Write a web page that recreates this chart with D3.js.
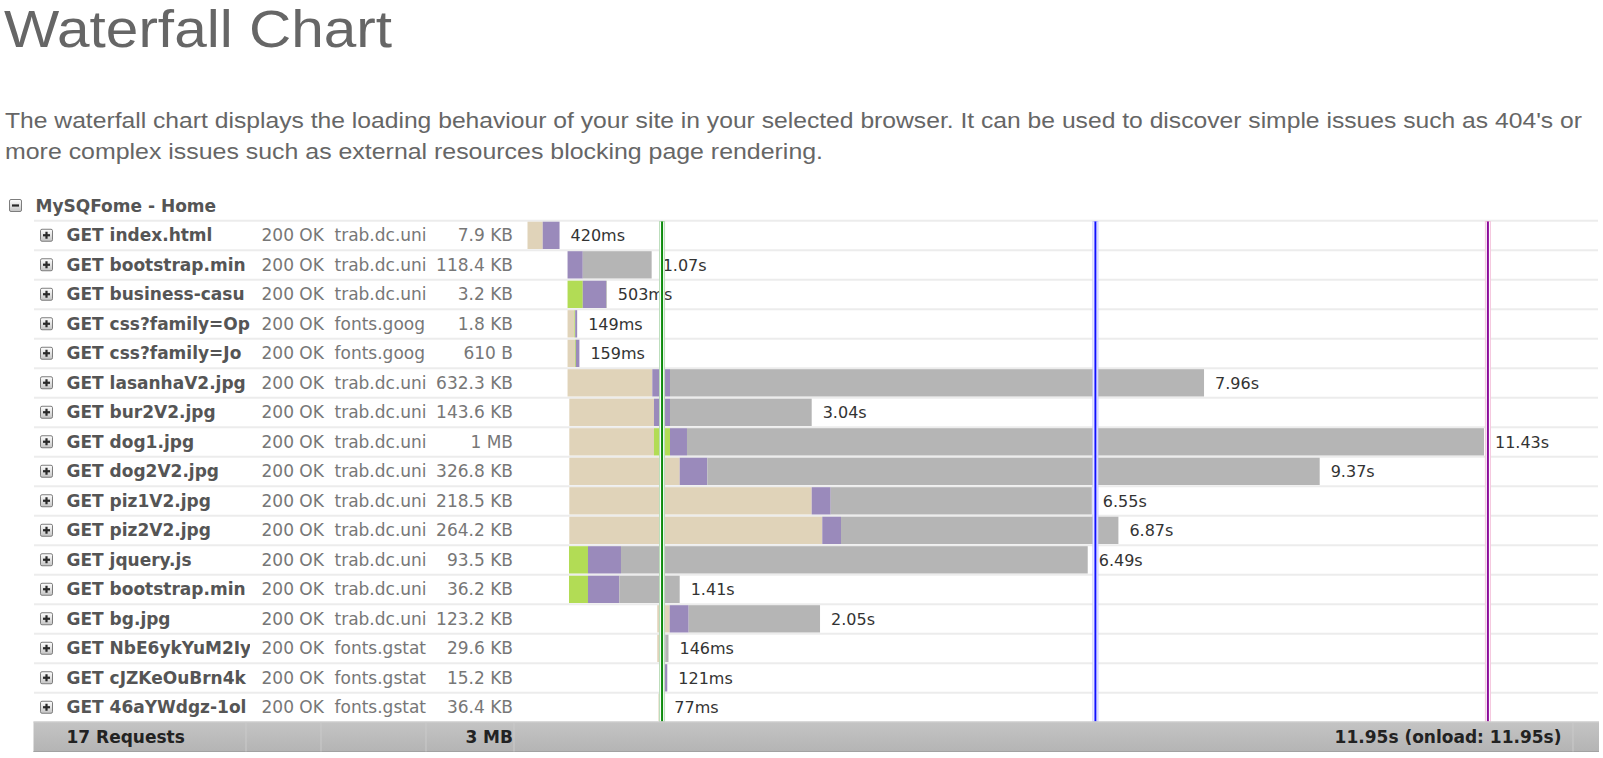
<!DOCTYPE html>
<html><head><meta charset="utf-8">
<script src="https://cdn.jsdelivr.net/npm/d3@7"></script>
<style>
html,body{margin:0;padding:0;background:#fff;overflow:hidden}
svg{display:block}
</style></head>
<body>
<script>
// ---------- data ----------
const pageTitle = "Waterfall Chart";
const descLines = [
  "The waterfall chart displays the loading behaviour of your site in your selected browser. It can be used to discover simple issues such as 404's or",
  "more complex issues such as external resources blocking page rendering."
];
const groupName = "MySQFome - Home";
const requests = ["GET index.html","GET bootstrap.min","GET business-casu","GET css?family=Op","GET css?family=Jo","GET lasanhaV2.jpg","GET bur2V2.jpg","GET dog1.jpg","GET dog2V2.jpg","GET piz1V2.jpg","GET piz2V2.jpg","GET jquery.js","GET bootstrap.min","GET bg.jpg","GET NbE6ykYuM2Iy","GET cJZKeOuBrn4k","GET 46aYWdgz-1ol"];
const statuses = Array(17).fill("200 OK");
const hosts = ["trab.dc.uni","trab.dc.uni","trab.dc.uni","fonts.goog","fonts.goog","trab.dc.uni","trab.dc.uni","trab.dc.uni","trab.dc.uni","trab.dc.uni","trab.dc.uni","trab.dc.uni","trab.dc.uni","trab.dc.uni","fonts.gstat","fonts.gstat","fonts.gstat"];
const sizes = ["7.9 KB","118.4 KB","3.2 KB","1.8 KB","610 B","632.3 KB","143.6 KB","1 MB","326.8 KB","218.5 KB","264.2 KB","93.5 KB","36.2 KB","123.2 KB","29.6 KB","15.2 KB","36.4 KB"];
// timings in seconds
const startT   = [0, 0.50, 0.50, 0.50, 0.50, 0.50, 0.522, 0.522, 0.522, 0.522, 0.522, 0.518, 0.518, 1.62, 1.62, 1.645, 1.635];
const blocked  = [0.19, 0, 0, 0.085, 0.093, 1.058, 1.057, 1.057, 1.378, 3.026, 3.158, 0, 0, 0.155, 0.085, 0.07, 0.05];
const dns      = [0, 0, 0.19, 0.01, 0.01, 0, 0, 0.20, 0, 0, 0, 0.237, 0.237, 0, 0, 0, 0];
const waiting  = [0.21, 0.19, 0.29, 0.025, 0.045, 0.221, 0.20, 0.212, 0.345, 0.237, 0.234, 0.412, 0.391, 0.237, 0.015, 0.03, 0.01];
const receive  = [0, 0.86, 0.01, 0, 0, 6.667, 1.769, 9.95, 7.645, 3.26, 3.463, 5.827, 0.754, 1.64, 0.04, 0, 0];
const durLabels = ["420ms","1.07s","503ms","149ms","159ms","7.96s","3.04s","11.43s","9.37s","6.55s","6.87s","6.49s","1.41s","2.05s","146ms","121ms","77ms"];
const eventTimes = [1.68, 7.09, 11.99];
const totalTime = 11.95;
const footerCount = "17 Requests";
const footerSize = "3 MB";
const footerTime = "11.95s (onload: 11.95s)";

// ---------- layout ----------
const W = 1603, H = 758;
const rowTop0 = 220, rowH = 29.5;
const phaseColors = ["#e0d3b9", "#b2dc55", "#9a8abb", "#b5b5b5"];
const evColors = [{c:"#0b8a0b", l:"#b9dcb9"}, {c:"#1010ff", l:"#c4c4ff"}, {c:"#8a0a9a", l:"#f4c4dc"}];
const descWidths = [1577, 818];

const svg = d3.select("body").append("svg").attr("width", W).attr("height", H);
const defs = svg.append("defs");
const grad = defs.append("linearGradient").attr("id","icg").attr("x1",0).attr("y1",0).attr("x2",0).attr("y2",1);
grad.append("stop").attr("offset","0%").attr("stop-color","#ffffff");
grad.append("stop").attr("offset","100%").attr("stop-color","#c4c4c4");
const fgrad = defs.append("linearGradient").attr("id","ftg").attr("x1",0).attr("y1",0).attr("x2",0).attr("y2",1);
fgrad.append("stop").attr("offset","0%").attr("stop-color","#c4c4c4");
fgrad.append("stop").attr("offset","100%").attr("stop-color","#b4b4b4");
defs.append("clipPath").attr("id","clipName").append("rect").attr("x",60).attr("y",0).attr("width",190).attr("height",H);
defs.append("clipPath").attr("id","clipHost").append("rect").attr("x",330).attr("y",0).attr("width",97).attr("height",H);
defs.append("clipPath").attr("id","clipSize").append("rect").attr("x",430).attr("y",0).attr("width",84).attr("height",H);

const x = d3.scaleLinear().domain([0, totalTime]).range([527.5, 1484.7]);
const y = d3.scaleBand().domain(d3.range(requests.length)).range([rowTop0, rowTop0 + rowH*requests.length]).padding(0);

// title
svg.append("text").attr("x",4).attr("y",46.5).text(pageTitle)
  .attr("font-family","'Liberation Sans', Arial, sans-serif").attr("font-size",51)
  .attr("fill","#666").attr("textLength",388).attr("lengthAdjust","spacingAndGlyphs");

// description
svg.selectAll("text.desc").data(descLines).join("text").attr("class","desc")
  .attr("x",5).attr("y",(d,i)=>127.5 + i*31.5).text(d=>d)
  .attr("textLength",(d,i)=>descWidths[i]).attr("lengthAdjust","spacingAndGlyphs")
  .attr("font-family","'Liberation Sans', Arial, sans-serif").attr("font-size",21.8).attr("fill","#666");

// icon helper
function icon(g, cx, cy, plus){
  g.append("rect").attr("x",cx-6).attr("y",cy-6).attr("width",12).attr("height",12)
    .attr("rx",1.5).attr("fill","url(#icg)").attr("stroke","#7d7d7d").attr("stroke-width",1);
  g.append("rect").attr("x",cx-3.5).attr("y",cy-1.1).attr("width",7).attr("height",2.2).attr("fill","#2a2a2a");
  if(plus) g.append("rect").attr("x",cx-1.1).attr("y",cy-3.5).attr("width",2.2).attr("height",7).attr("fill","#2a2a2a");
}

// group header
const hdr = svg.append("g");
icon(hdr, 15.5, 205.5, false);
hdr.append("text").attr("x",35.5).attr("y",211.5).text(groupName)
  .attr("font-family","'DejaVu Sans', Verdana, sans-serif").attr("font-weight","bold").attr("font-size",17).attr("fill","#555");

// row separator lines
svg.selectAll("line.sep").data(d3.range(requests.length)).join("line").attr("class","sep")
  .attr("x1",34).attr("x2",1598).attr("y1",i=>y(i)+0.75).attr("y2",i=>y(i)+0.75)
  .attr("stroke","#ececec").attr("stroke-width",1.8);

// left table
const rows = svg.selectAll("g.row").data(d3.range(requests.length)).join("g").attr("class","row");
rows.each(function(i){
  const g = d3.select(this);
  const cy = y(i) + rowH/2 + 0.5;
  icon(g, 46.5, cy, true);
  g.append("text").attr("x",66.5).attr("y",cy+6).text(requests[i]).attr("clip-path","url(#clipName)")
    .attr("font-family","'DejaVu Sans', Verdana, sans-serif").attr("font-weight","bold").attr("font-size",17).attr("fill","#555");
  g.append("text").attr("x",261.5).attr("y",cy+6).text(statuses[i])
    .attr("font-family","'DejaVu Sans', Verdana, sans-serif").attr("font-size",17).attr("fill","#777");
  g.append("text").attr("x",334.5).attr("y",cy+6).text(hosts[i]).attr("clip-path","url(#clipHost)")
    .attr("font-family","'DejaVu Sans', Verdana, sans-serif").attr("font-size",17).attr("fill","#777");
  g.append("text").attr("x",513).attr("y",cy+6).attr("text-anchor","end").text(sizes[i]).attr("clip-path","url(#clipSize)")
    .attr("font-family","'DejaVu Sans', Verdana, sans-serif").attr("font-size",17).attr("fill","#777");
});

// bars
const phases = [blocked, dns, waiting, receive];
rows.each(function(i){
  const g = d3.select(this);
  let t = startT[i];
  phases.forEach((arr, p) => {
    const d = arr[i];
    if(d > 0){
      g.append("rect").attr("x", x(t)).attr("y", y(i)+1.7).attr("width", x(t+d)-x(t)).attr("height", rowH-2.2)
        .attr("fill", phaseColors[p]);
    }
    t += d;
  });
});

// event lines
const ev = svg.selectAll("g.ev").data(eventTimes).join("g").attr("class","ev");
ev.append("rect").attr("x",d=>x(d)-2.5).attr("y",rowTop0+1.5).attr("width",5).attr("height",rowH*requests.length-1.5)
  .attr("fill","#fff").attr("stroke",(d,i)=>evColors[i].l).attr("stroke-width",1);
ev.append("rect").attr("x",d=>x(d)-1).attr("y",rowTop0+1.5).attr("width",2).attr("height",rowH*requests.length-1.5)
  .attr("fill",(d,i)=>evColors[i].c);

// duration labels
rows.append("text").attr("x",i=>{
    const end = startT[i]+blocked[i]+dns[i]+waiting[i]+receive[i];
    return x(end)+11;
  }).attr("y",i=>y(i)+rowH/2+6.5).text(i=>durLabels[i])
  .attr("font-family","'DejaVu Sans', Verdana, sans-serif").attr("font-size",16).attr("fill","#333");

// footer
const fy = rowTop0 + rowH*requests.length;
const ft = svg.append("g");
ft.append("rect").attr("x",33.5).attr("y",fy).attr("width",1565.5).attr("height",30.5).attr("fill","url(#ftg)");
ft.append("line").attr("x1",33.5).attr("x2",1599).attr("y1",fy+0.5).attr("y2",fy+0.5).attr("stroke","#d0d0d0");
ft.append("line").attr("x1",33.5).attr("x2",1599).attr("y1",fy+30).attr("y2",fy+30).attr("stroke","#a2a2a2");
[246, 321, 426, 514, 1573].forEach(dx => {
  ft.append("line").attr("x1",dx).attr("x2",dx).attr("y1",fy+1).attr("y2",fy+30).attr("stroke","#cacaca").attr("stroke-width",1);
});
const ftxt = (tx, anchor, s) => ft.append("text").attr("x",tx).attr("y",fy+21).attr("text-anchor",anchor).text(s)
  .attr("font-family","'DejaVu Sans', Verdana, sans-serif").attr("font-weight","bold").attr("font-size",17).attr("fill","#222");
ftxt(66.5, "start", footerCount);
ftxt(513, "end", footerSize);
ftxt(1561.5, "end", footerTime);
</script>
</body></html>
